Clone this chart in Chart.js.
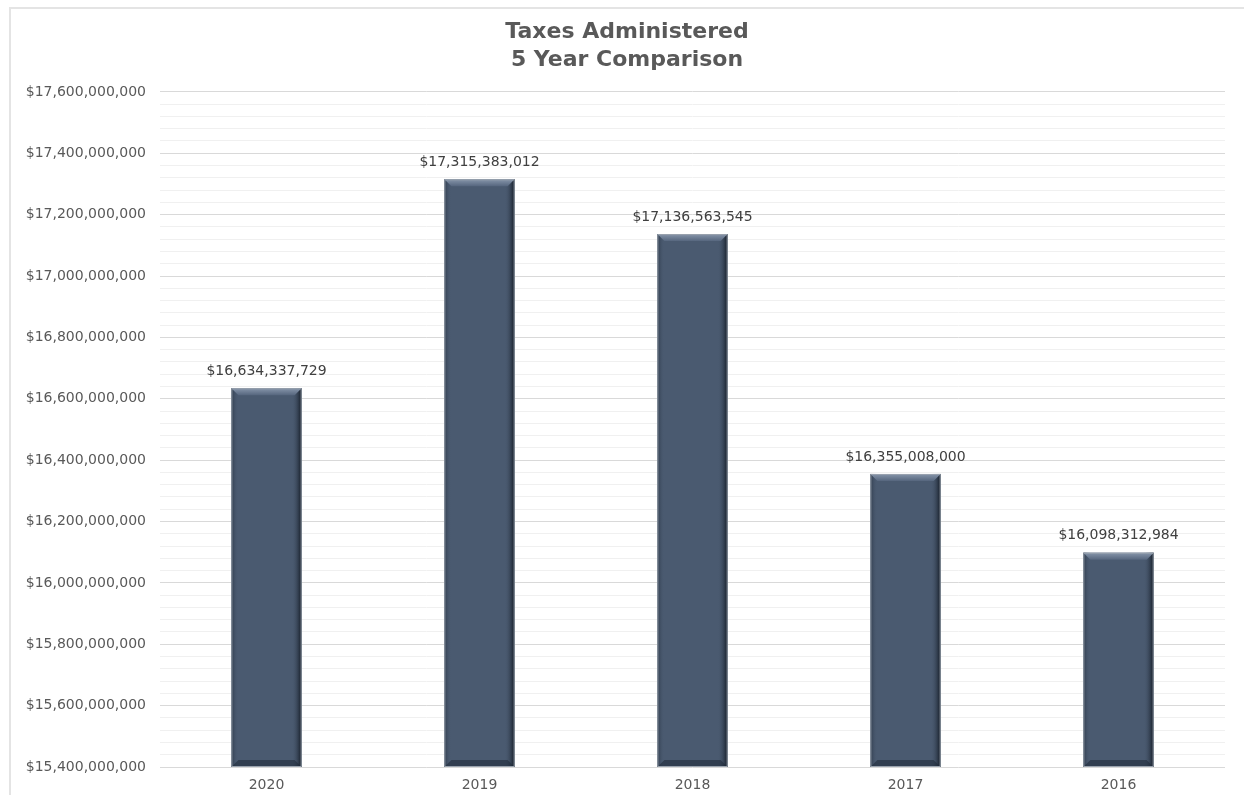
<!DOCTYPE html>
<html>
<head>
<meta charset="utf-8">
<script src="https://cdn.jsdelivr.net/npm/chart.js@4"></script>
<style>
  html, body { margin: 0; padding: 0; background: #fff; }
  #frame { position: absolute; left: 9px; top: 7px; width: 1300px; height: 900px; border: 2px solid #e4e4e4; }
  #wrap { position: absolute; left: 0; top: 0; width: 1244px; height: 795px; }
</style>
</head>
<body>
<div id="frame"></div>
<div id="wrap"><canvas id="barchart" width="1244" height="795"></canvas></div>
<script>
var years = ["2020", "2019", "2018", "2017", "2016"];
var taxes = [16634337729, 17315383012, 17136563545, 16355008000, 16098312984];
var titleLines = ["Taxes Administered", "5 Year Comparison"];
var yMin = 15400000000;
var yMax = 17600000000;
var minorStep = 40000000;

var FONT = "'DejaVu Sans', sans-serif";

function money(v) {
    return "$" + Math.round(v).toLocaleString("en-US");
}

function isMajor(v) {
    return Math.round((v - yMin) / minorStep) % 5 === 0;
}

// bevel look on the bars, like the excel chart
var bevelBars = {
    id: "bevelBars",
    afterDatasetsDraw: function (chart) {
        var c = chart.ctx;
        var meta = chart.getDatasetMeta(0);
        meta.data.forEach(function (bar) {
            var w = bar.width;
            var l = bar.x - w / 2, r = bar.x + w / 2;
            var t = bar.y, b = Math.min(bar.base, chart.chartArea.bottom);
            var e = 7;
            c.save();
            // left edge
            var g = c.createLinearGradient(l, 0, l + e, 0);
            g.addColorStop(0, "#2f3b4c");
            g.addColorStop(1, "rgba(74,90,112,0)");
            c.fillStyle = g;
            c.fillRect(l, t, e, b - t);
            // right edge
            g = c.createLinearGradient(r - e - 3, 0, r, 0);
            g.addColorStop(0, "rgba(74,90,112,0)");
            g.addColorStop(1, "#111822");
            c.fillStyle = g;
            c.fillRect(r - e - 3, t, e + 3, b - t);
            // top edge (lighter)
            c.beginPath();
            c.moveTo(l, t);
            c.lineTo(r, t);
            c.lineTo(r - e, t + e);
            c.lineTo(l + e, t + e);
            c.closePath();
            g = c.createLinearGradient(0, t, 0, t + e);
            g.addColorStop(0, "#8796ab");
            g.addColorStop(1, "#56667e");
            c.fillStyle = g;
            c.fill();
            // bottom edge (darker)
            c.beginPath();
            c.moveTo(l, b);
            c.lineTo(r, b);
            c.lineTo(r - e, b - e);
            c.lineTo(l + e, b - e);
            c.closePath();
            c.fillStyle = "rgba(30,40,54,0.55)";
            c.fill();
            c.strokeStyle = "#9aa3ae";
            c.lineWidth = 1;
            c.strokeRect(l + 0.5, t + 0.5, w - 1, b - t - 1);
            c.restore();
        });
    }
};

var barLabels = {
    id: "barLabels",
    afterDatasetsDraw: function (chart) {
        var c = chart.ctx;
        var meta = chart.getDatasetMeta(0);
        c.save();
        c.font = "14px " + FONT;
        c.fillStyle = "#404040";
        c.textAlign = "center";
        c.textBaseline = "middle";
        meta.data.forEach(function (bar, i) {
            c.fillText(money(taxes[i]), bar.x, bar.y - 17);
        });
        c.restore();
    }
};

// the built-in title only reserves the space; the text sits a bit right of centre in the original
var titleText = {
    id: "titleText",
    afterDraw: function (chart) {
        var c = chart.ctx;
        c.save();
        c.font = "bold 22px " + FONT;
        c.fillStyle = "#595959";
        c.textAlign = "center";
        c.textBaseline = "middle";
        titleLines.forEach(function (s, i) {
            c.fillText(s, chart.width / 2 + 5, 32 + i * 28);
        });
        c.restore();
    }
};

var ctx = document.getElementById("barchart").getContext("2d");

var myChart = new Chart(ctx, {
    type: "bar",
    data: {
        labels: years,
        datasets: [
            {
                label: "Taxes Administered",
                data: taxes,
                backgroundColor: "#4a5a70",
                borderWidth: 0,
                barPercentage: 0.33,
                categoryPercentage: 1
            }
        ]
    },
    options: {
        responsive: false,
        animation: false,
        layout: {
            padding: { top: 10, right: 19, bottom: 0, left: 0 }
        },
        plugins: {
            legend: { display: false },
            tooltip: { enabled: false },
            title: {
                display: true,
                text: titleLines,
                color: "rgba(0,0,0,0)",
                font: { family: FONT, size: 22, weight: "bold", lineHeight: 1.27 },
                padding: { top: 8, bottom: 18 }
            }
        },
        scales: {
            x: {
                afterFit: function (scale) { scale.height = 28; },
                grid: { display: false, drawTicks: false },
                border: { display: false },
                ticks: {
                    color: "#595959",
                    font: { family: FONT, size: 14 },
                    padding: 10
                }
            },
            y: {
                min: yMin,
                max: yMax,
                border: { display: false },
                afterFit: function (scale) { scale.width = 160; },
                grid: {
                    drawTicks: false,
                    color: function (c) {
                        return isMajor(c.tick.value) ? "#d9d9d9" : "#f0f0f0";
                    },
                    lineWidth: 1
                },
                ticks: {
                    stepSize: minorStep,
                    autoSkip: false,
                    padding: 14,
                    color: "#595959",
                    font: { family: FONT, size: 14 },
                    callback: function (v) {
                        return isMajor(v) ? money(v) : "";
                    }
                }
            }
        }
    },
    plugins: [bevelBars, barLabels, titleText]
});
</script>
</body>
</html>
